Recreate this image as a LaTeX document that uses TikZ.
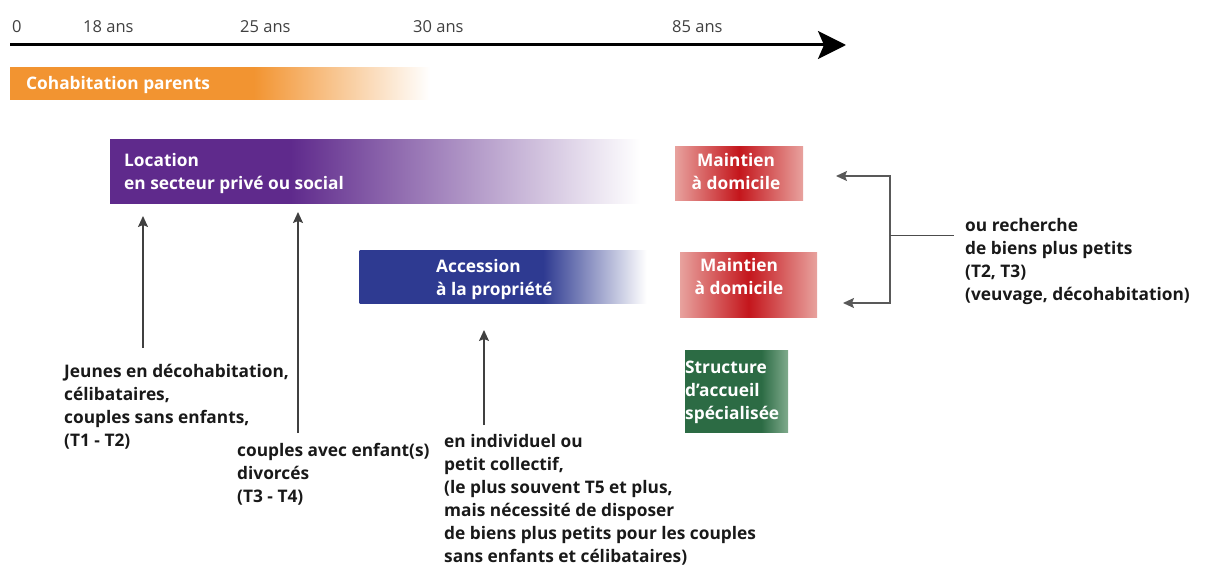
\documentclass[tikz,border=0pt]{standalone}
\usepackage{fontspec}
\setmainfont{Open Sans}
\usetikzlibrary{arrows.meta}
\definecolor{orng}{HTML}{F29431}
\definecolor{purp}{HTML}{5F2A8C}
\definecolor{blu}{HTML}{2E3A91}
\definecolor{redd}{HTML}{C4161C}
\definecolor{redl}{HTML}{E8A29E}
\definecolor{grnd}{HTML}{2C6B44}
\definecolor{grnl}{HTML}{7FAA8C}
\pgfdeclarehorizontalshading{orfade}{100bp}{color(0bp)=(orng); color(25bp)=(orng); color(54bp)=(orng); color(75bp)=(white); color(100bp)=(white)}
\pgfdeclarehorizontalshading{purfade}{100bp}{color(0bp)=(purp); color(25bp)=(purp); color(42bp)=(purp); color(75bp)=(white); color(100bp)=(white)}
\pgfdeclarehorizontalshading{blufade}{100bp}{color(0bp)=(blu); color(25bp)=(blu); color(57bp)=(blu); color(75bp)=(white); color(100bp)=(white)}
\pgfdeclarehorizontalshading{redfade}{100bp}{color(0bp)=(redl); color(25bp)=(redl); color(50bp)=(redd); color(75bp)=(redl); color(100bp)=(redl)}
\pgfdeclarehorizontalshading{grnfade}{100bp}{color(0bp)=(grnd); color(25bp)=(grnd); color(62bp)=(grnd); color(75bp)=(grnl); color(100bp)=(grnl)}
\begin{document}
\begin{tikzpicture}[x=1pt,y=-1pt,
  txt/.style={font=\bfseries\fontsize{17.3}{23}\selectfont, align=left, inner sep=0pt, anchor=north west, text=black!90},
  wtxt/.style={txt, text=white},
  ctxt/.style={wtxt, align=center, anchor=north},
  axlbl/.style={font=\fontsize{16.5}{18}\selectfont, inner sep=0pt, anchor=base west, text=black!75},
  band/.style={rectangle, inner sep=0pt, draw=none, shade},
  ptr/.style={draw=black!75, line width=1.4pt, -{Stealth[length=11pt,width=10pt,inset=2pt]}},
  brk/.style={draw=black!65, line width=1.6pt}
]
\useasboundingbox (0,0) rectangle (1210,567);
% axis
\coordinate (ax0) at (10,45);
\coordinate (ax1) at (846,45);
\draw[line width=3pt, -{Stealth[length=28pt,width=28pt,inset=6pt]}] (ax0) -- (ax1);
\node[axlbl] (l0) at (12,33) {0};
\node[axlbl] (l18) at (83,33) {18 ans};
\node[axlbl] (l25) at (240,33) {25 ans};
\node[axlbl] (l30) at (413,33) {30 ans};
\node[axlbl] (l85) at (672,33) {85 ans};
% bands
\node[band, shading=orfade, minimum width=420, minimum height=32] (coh) at (220,84) {};
\node[wtxt, anchor=base west] (cohT) at (26,90) {Cohabitation parents};
\node[band, shading=purfade, minimum width=530, minimum height=63] (loc) at (375,171.5) {};
\node[wtxt] (locT) at (124,153) {Location\\en secteur privé ou social};
\node[band, shading=blufade, minimum width=287, minimum height=53] (acc) at (503,276.5) {};
\node[wtxt] (accT) at (436,259) {Accession\\à la propriété};
% boxes
\node[band, shading=redfade, minimum width=128, minimum height=53] (r1) at (739,173.5) {};
\node[ctxt] (r1T) at (736,153) {Maintien\\à domicile};
\node[band, shading=redfade, minimum width=137, minimum height=65] (r2) at (748.5,284.5) {};
\node[ctxt] (r2T) at (739,258) {Maintien\\à domicile};
\node[band, shading=grnfade, minimum width=103, minimum height=82] (g) at (736.5,391) {};
\node[wtxt] (gT) at (685,361) {Structure\\d'accueil\\spécialisée};
% texts
\node[txt] (tA) at (64,364) {Jeunes en décohabitation,\\célibataires,\\couples sans enfants,\\(T1 - T2)};
\node[txt] (tB) at (237,443) {couples avec enfant(s)\\divorcés\\(T3 - T4)};
\node[txt] (tC) at (444,434) {en individuel ou\\petit collectif,\\(le plus souvent T5 et plus,\\mais nécessité de disposer\\de biens plus petits pour les couples\\sans enfants et célibataires)};
\node[txt] (tD) at (965,218) {ou recherche\\de biens plus petits\\(T2, T3)\\(veuvage, décohabitation)};
% pointers
\coordinate (p1a) at (143,348); \coordinate (p1b) at (143,216);
\coordinate (p2a) at (298,433); \coordinate (p2b) at (298,212);
\coordinate (p3a) at (484,425); \coordinate (p3b) at (484,330);
\draw[ptr] (p1a) -- (p1b);
\draw[ptr] (p2a) -- (p2b);
\draw[ptr] (p3a) -- (p3b);
% bracket
\coordinate (bt) at (836,176); \coordinate (bc1) at (890,176);
\coordinate (bc2) at (890,303); \coordinate (bb) at (843,303);
\coordinate (bm) at (890,235); \coordinate (be) at (954,235);
\draw[brk, {Stealth[length=11pt,width=10pt,inset=2pt]}-{Stealth[length=11pt,width=10pt,inset=2pt]}] (bt) -- (bc1) -- (bc2) -- (bb);
\draw[draw=black!70, line width=1pt] (bm) -- (be);
\end{tikzpicture}
\end{document}
